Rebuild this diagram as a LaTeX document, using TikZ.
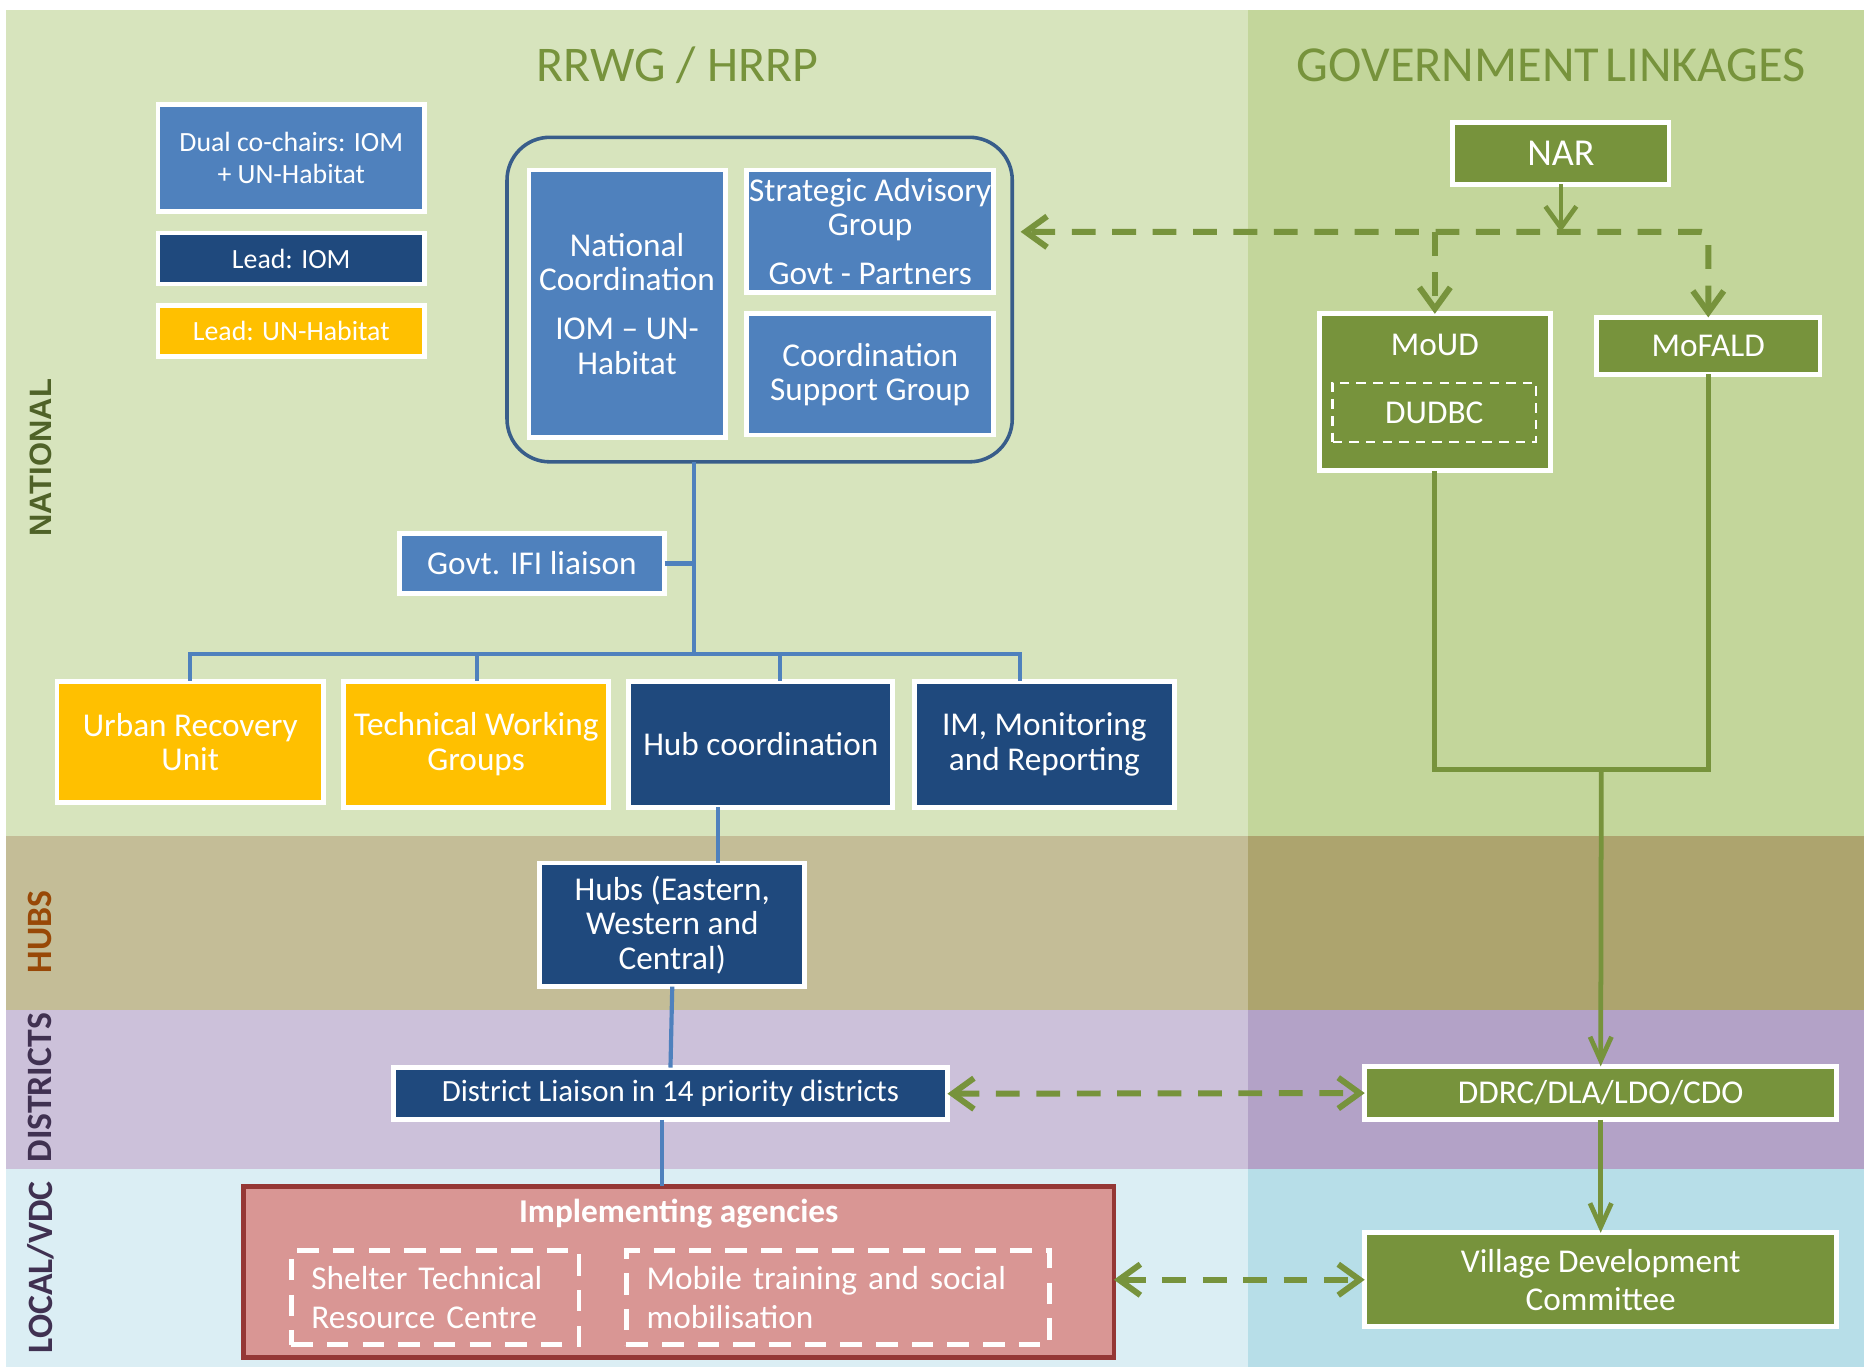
\documentclass[tikz,border=0pt]{standalone}
\usepackage{fontspec}
\setmainfont{Carlito}
\newfontfamily\arialfont{Liberation Sans}
\usetikzlibrary{arrows.meta}
\definecolor{bgNat}{HTML}{D7E4BD}
\definecolor{bgNatR}{HTML}{C3D69B}
\definecolor{bgHub}{HTML}{C4BD97}
\definecolor{bgHubR}{HTML}{ADA46E}
\definecolor{bgDis}{HTML}{CCC1DA}
\definecolor{bgDisR}{HTML}{B3A2C7}
\definecolor{bgLoc}{HTML}{DBEEF4}
\definecolor{bgLocR}{HTML}{B7DEE8}
\definecolor{cBlue}{HTML}{4F81BD}
\definecolor{cNavy}{HTML}{1F497D}
\definecolor{cGold}{HTML}{FFC000}
\definecolor{cOlive}{HTML}{77933C}
\definecolor{cRedL}{HTML}{D99694}
\definecolor{cRedD}{HTML}{953735}
\definecolor{cCont}{HTML}{385D8A}
\definecolor{cNat}{HTML}{4F6228}
\definecolor{cHub}{HTML}{984807}
\definecolor{cDis}{HTML}{403151}
\newcommand\mkbox[7]{\node[#6, minimum width={(#4-#2)*0.5pt-2pt}, minimum height={(#5-#3)*0.5pt-2pt}] (#1) at ({(#2+#4)/2},{(#3+#5)/2}) {#7};}
\begin{document}
\begin{tikzpicture}[x=0.5pt,y=-0.5pt,
  box/.style={draw=white, line width=2pt, inner sep=0pt, outer sep=0pt, text=white, align=center, font=\fontsize{14}{14.5}\selectfont},
  bluebox/.style={box, fill=cBlue},
  navybox/.style={box, fill=cNavy},
  goldbox/.style={box, fill=cGold},
  olivebox/.style={box, fill=cOlive},
  legendfont/.style={font=\fontsize{11.7}{13.5}\selectfont},
  bline/.style={draw=cBlue, line width=1.75pt},
  gline/.style={draw=cOlive, line width=2pt},
  gdash/.style={draw=cOlive, line width=2.5pt, dash pattern=on 10pt off 7pt},
  wdash/.style={draw=white, line width=2pt, dash pattern=on 9pt off 6pt},
  gtip/.tip={Straight Barb[length=9pt,width=13pt]},
  gtips/.tip={Straight Barb[length=10pt,width=9pt]},
  bandlab/.style={rotate=90, font=\bfseries\fontsize{15}{15}\selectfont},
  titlelab/.style={text=cOlive}
]
\useasboundingbox (0,0) rectangle (1568,1151);
% backgrounds
\fill[bgNat] (5,8) rectangle (1050,703);
\fill[bgNatR] (1050,8) rectangle (1568,703);
\fill[bgHub] (5,703) rectangle (1050,850);
\fill[bgHubR] (1050,703) rectangle (1568,850);
\fill[bgDis] (5,850) rectangle (1050,983);
\fill[bgDisR] (1050,850) rectangle (1568,983);
\fill[bgLoc] (5,983) rectangle (1050,1150);
\fill[bgLocR] (1050,983) rectangle (1568,1150);
% titles
\node[titlelab, font=\fontsize{21}{21}\selectfont] (t1) at (570,55) {RRWG / HRRP};
\node[titlelab, font=\fontsize{21.2}{21.2}\selectfont] (t2) at (1305,55) {GOVERNMENT\hspace{0.12em}LINKAGES};
% band labels
\node[bandlab, text=cNat, font=\arialfont\bfseries\fontsize{13}{13}\selectfont] (lnat) at (34,385) {NATIONAL};
\node[bandlab, text=cHub] (lhub) at (34,784) {HUBS};
\node[bandlab, text=cDis] (ldis) at (34,915) {DISTRICTS};
\node[bandlab, text=cDis] (lloc) at (34,1066) {LOCAL/VDC};
% legend
\mkbox{lg1}{131}{86}{359}{180}{bluebox,legendfont}{Dual co-chairs: IOM\\+ UN-Habitat}
\mkbox{lg2}{131}{194}{359}{241}{navybox,legendfont}{Lead: IOM}
\mkbox{lg3}{131}{255}{359}{302}{goldbox,legendfont}{Lead: UN-Habitat}
% national coordination container
\node[draw=cCont, line width=1.5pt, rounded corners=18pt, inner sep=0pt, outer sep=0pt, minimum width={(853-425)*0.5pt-1.5pt}, minimum height={(390-114)*0.5pt-1.5pt}] (cont) at (639,252) {};
\mkbox{nc}{443}{141}{612}{370}{bluebox}{National\\Coordination\\[6pt]IOM -- UN-\\Habitat}
\mkbox{sag}{626}{141}{838}{248}{bluebox}{Strategic Advisory\\Group\\[6pt]Govt - Partners}
\mkbox{csg}{626}{262}{838}{368}{bluebox}{Coordination\\Support Group}
\mkbox{ifi}{334}{447}{561}{501}{bluebox}{Govt. IFI liaison}
% second row
\mkbox{uru}{46}{571}{274}{677}{goldbox}{Urban Recovery\\Unit}
\mkbox{twg}{287}{571}{514}{681}{goldbox}{Technical Working\\Groups}
\mkbox{hubc}{527}{571}{753}{681}{navybox}{Hub coordination}
\mkbox{imr}{767}{571}{990}{681}{navybox}{IM, Monitoring\\and Reporting}
\mkbox{hubs}{452}{724}{679}{832}{navybox}{Hubs (Eastern,\\Western and\\Central)}
\mkbox{dist}{329}{896}{799}{944}{navybox,font=\fontsize{13}{14}\selectfont}{District Liaison in 14 priority districts}
% implementing agencies
\node[draw=cRedD, fill=cRedL, line width=2pt, inner sep=0pt, outer sep=0pt, minimum width={(939-203)*0.5pt-2pt}, minimum height={(1144-996)*0.5pt-2pt}] (impl) at (571,1070) {};
\node[text=white, font=\bfseries\fontsize{14}{14}\selectfont] (implt) at (571,1021) {Implementing agencies};
\node[wdash, inner sep=0pt, inner xsep=8.5pt, outer sep=0pt, text=white, align=left, text width={(487-245)*0.5pt-17pt}, minimum height={(1133-1050)*0.5pt-2pt}, font=\fontsize{14}{16}\selectfont] (strc) at (366,1091.5) {Shelter Technical\\Resource Centre};
\node[wdash, inner sep=0pt, inner xsep=8.5pt, outer sep=0pt, text=white, align=left, text width={(883-527)*0.5pt-17pt}, minimum height={(1133-1050)*0.5pt-2pt}, font=\fontsize{14}{16}\selectfont] (mtsm) at (705,1091.5) {Mobile training and social\\mobilisation};
% government side
\mkbox{nar}{1220}{101}{1406}{157}{olivebox,font=\fontsize{16}{16}\selectfont}{NAR}
\mkbox{moud}{1108}{262}{1306}{398}{olivebox}{}
\node[text=white, font=\fontsize{14}{14}\selectfont] (moudt) at (1207,290) {MoUD};
\node[draw=white, line width=1pt, dash pattern=on 4pt off 3pt, inner sep=0pt, outer sep=0pt, text=white, font=\fontsize{14}{14}\selectfont, minimum width={(1292-1121)*0.5pt}, minimum height={(372-322)*0.5pt}] (dudbc) at (1206.5,347) {DUDBC};
\mkbox{mofald}{1341}{265}{1533}{317}{olivebox}{MoFALD}
\mkbox{ddrc}{1146}{895}{1547}{944}{olivebox}{DDRC/DLA/LDO/CDO}
\mkbox{vdc}{1146}{1035}{1547}{1118}{olivebox,font=\fontsize{14}{16}\selectfont}{Village Development\\Committee}
% coordinates
\coordinate (busc) at (584,550);
\coordinate (busl) at (160,550);
\coordinate (busr) at (858,550);
\coordinate (d2) at (401,550);
\coordinate (d3) at (656,550);
\coordinate (hx) at (604,700);
\coordinate (dx) at (557,970);
\coordinate (jn) at (1313,195);
\coordinate (bj) at (1347,647);
% blue connectors
\draw[bline] (cont.south -| busc) -- (busc);
\draw[bline] (ifi.east) -- (ifi.east -| busc);
\draw[bline, line cap=rect] (busl) -- (busr);
\draw[bline] (busl) -- (uru.north);
\draw[bline] (d2) -- (twg.north -| d2);
\draw[bline] (d3) -- (hubc.north -| d3);
\draw[bline] (busr) -- (imr.north -| busr);
\draw[bline] (hubc.south -| hx) -- (hubs.north -| hx);
\draw[bline] (hubs.south) -- (dist.north);
\draw[bline] (dist.south -| dx) -- (impl.north -| dx);
% green connectors
\draw[gline, -{gtip}] (nar.south) -- (jn);
\draw[gdash, {gtip}-{gtip}, rounded corners=3pt] (mofald.north) -- (mofald.north |- jn) -- ([xshift=3.5pt]cont.east |- jn);
\draw[gdash, -{gtip}] (moud.north |- jn) -- (moud.north);
\draw[gline] (moud.south) -- (moud.south |- bj) -| (mofald.south);
\draw[gline, -{gtips}] (bj) -- (ddrc.north);
\draw[gline, -{gtips}] (ddrc.south) -- (vdc.north);
\draw[gdash, {gtip}-{gtip}] (dist.east) -- (ddrc.west);
\draw[gdash, {gtip}-{gtip}] (impl.east |- vdc.west) -- (vdc.west);
\end{tikzpicture}
\end{document}
